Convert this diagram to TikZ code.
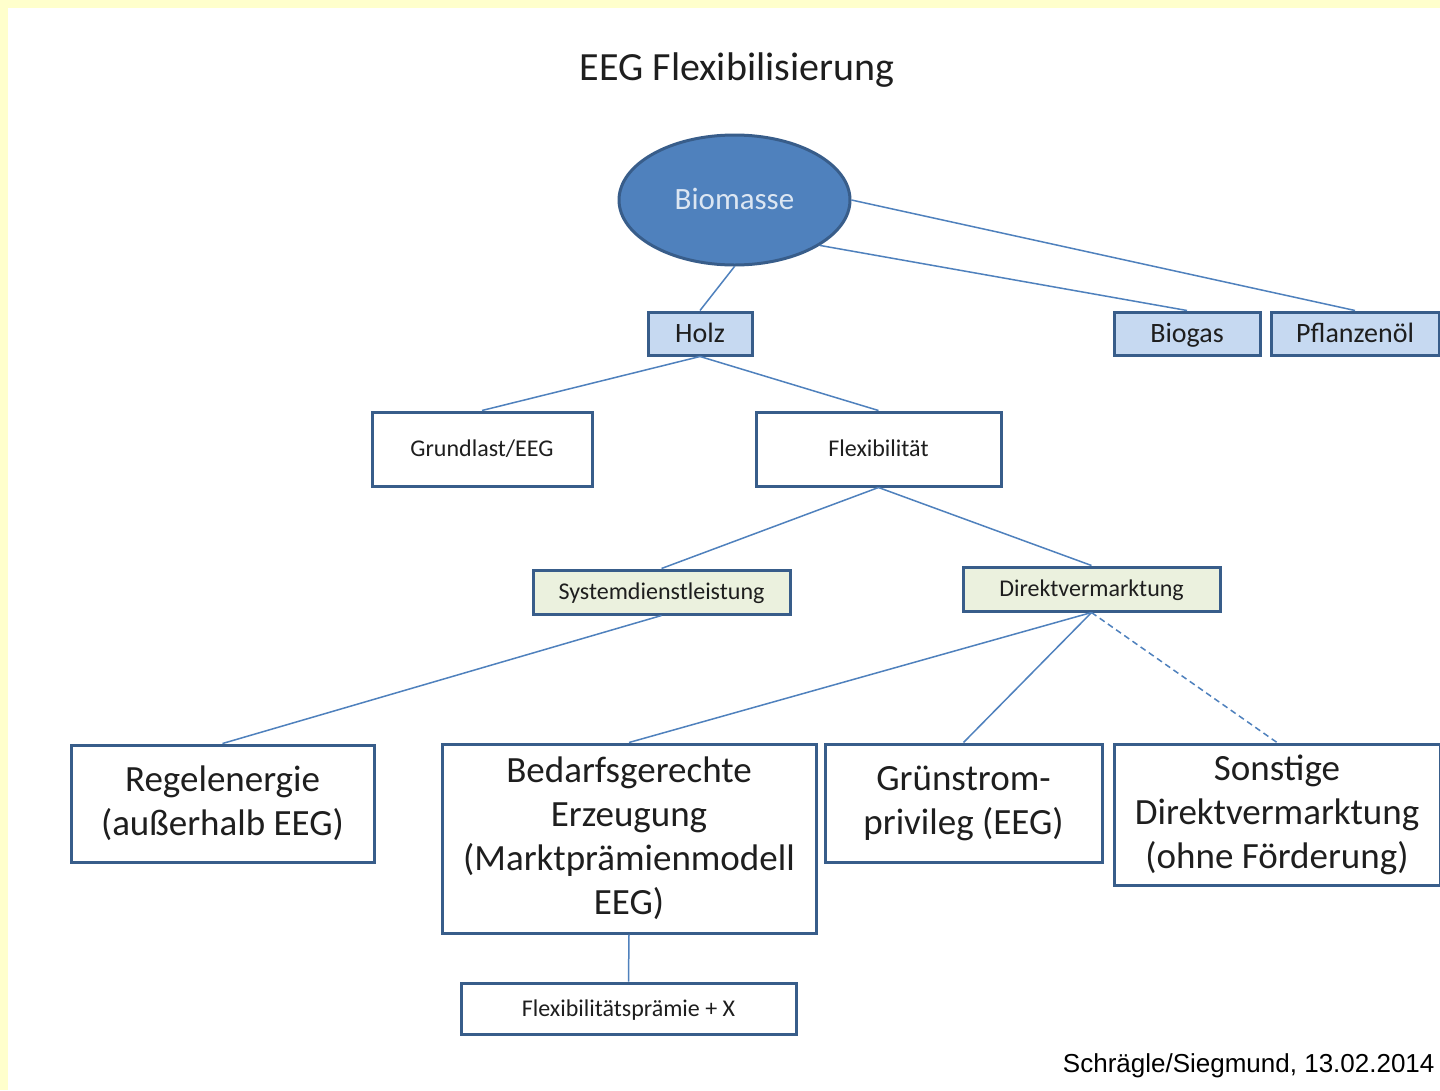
\documentclass[tikz,border=0pt]{standalone}
\usepackage{fontspec}
\setmainfont{Carlito}
\newfontfamily\footfont{Liberation Sans}
\usetikzlibrary{shapes.geometric}
\definecolor{bdr}{HTML}{385D8A}
\definecolor{lnk}{HTML}{4F81BD}
\definecolor{ell}{HTML}{4F81BD}
\definecolor{elltxt}{HTML}{DCE6F2}
\definecolor{lblue}{HTML}{C6D9F1}
\definecolor{lgreen}{HTML}{EBF1DE}
\definecolor{bgyellow}{HTML}{FFFFCC}
\definecolor{txt}{HTML}{1E1E1E}
\tikzset{
  box/.style={draw=bdr, line width=3pt, inner sep=0pt, align=center, text=txt},
  one/.style={font=\fontsize{#1}{#1}\selectfont, text height=0.8*#1 pt, text depth=0.16*#1 pt},
  link/.style={draw=lnk, line width=1.5pt},
  fs/.style={font=\fontsize{#1}{#1}\selectfont},
  big/.style={font=\fontsize{37}{44}\selectfont},
}
\begin{document}
\begin{tikzpicture}[x=1pt,y=-1pt]
\useasboundingbox (0,0) rectangle (1440,1090);
\fill[bgyellow] (0,0) rectangle (1440,1090);
\fill[white] (8,8) rectangle (1440,1090);

\node[fs=40, text=txt] (title) at (737,70) {EEG Flexibilisierung};

\node[ellipse, draw=bdr, fill=ell, line width=3pt, minimum width=231pt, minimum height=130pt, inner sep=0pt, text=elltxt, one=31] (bm) at (734.5,200) {Biomasse};

\node[box, one=28, fill=lblue, minimum width=104pt, minimum height=43pt] (hz) at (700,333.5) {Holz};
\node[box, one=28, fill=lblue, minimum width=146pt, minimum height=43pt] (bg) at (1187,333.5) {Biogas};
\node[box, one=28, fill=lblue, minimum width=168pt, minimum height=43pt] (pf) at (1355,333.5) {Pflanzenöl};

\node[box, one=24, fill=white, minimum width=220pt, minimum height=74pt] (gl) at (482,449) {Grundlast/EEG};
\node[box, one=24, fill=white, minimum width=245pt, minimum height=74pt] (fx) at (878.5,449) {Flexibilität};

\node[box, one=24, fill=lgreen, minimum width=257pt, minimum height=44pt] (sd) at (661.5,592) {Systemdienstleistung};
\node[box, one=24, fill=lgreen, minimum width=257pt, minimum height=44pt] (dv) at (1091.5,589) {Direktvermarktung};

\node[box, fill=white, minimum width=303pt, minimum height=117pt, big] (rg) at (222.5,803.5) {Regelenergie\\(außerhalb EEG)};
\node[box, fill=white, minimum width=374pt, minimum height=189pt, big] (bd) at (629,838.5) {Bedarfsgerechte\\Erzeugung\\(Marktprämienmodell\\EEG)};
\node[box, fill=white, minimum width=277pt, minimum height=118pt, big] (gs) at (963.5,803) {Grünstrom-\\privileg (EEG)};
\node[box, fill=white, minimum width=326pt, minimum height=141pt, big] (so) at (1277,814.5) {Sonstige\\Direktvermarktung\\(ohne Förderung)};

\node[box, one=24, fill=white, minimum width=335pt, minimum height=51pt] (fp) at (628.5,1008.5) {Flexibilitätsprämie + X};

\node[anchor=base east, font=\footfont\fontsize{26}{26}\selectfont, text=black] (foot) at (1438,1072) {Schrägle/Siegmund, 13.02.2014};

\draw[link] (bm.south) -- (hz.north);
\draw[link] (bm.-28) -- (bg.north);
\draw[link] (bm.east) -- (pf.north);
\draw[link] (hz.south) -- (gl.north);
\draw[link] (hz.south) -- (fx.north);
\draw[link] (fx.south) -- (sd.north);
\draw[link] (fx.south) -- (dv.north);
\draw[link] (sd.south) -- (rg.north);
\draw[link] (dv.south) -- (bd.north);
\draw[link] (dv.south) -- (gs.north);
\draw[link, dash pattern=on 6pt off 4pt] (dv.south) -- (so.north);
\draw[link] (bd.south) -- (fp.north);
\end{tikzpicture}
\end{document}
